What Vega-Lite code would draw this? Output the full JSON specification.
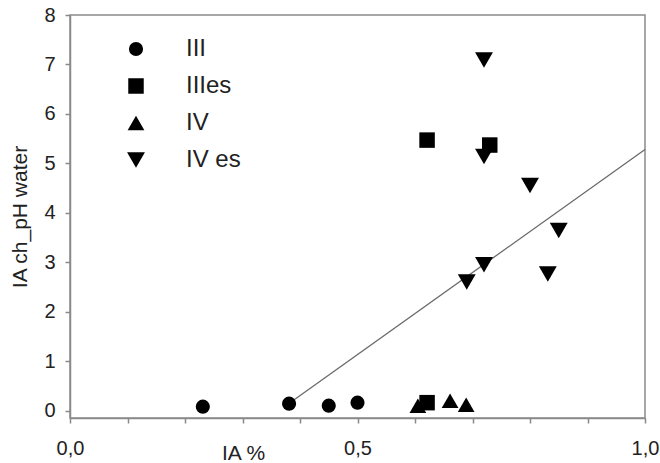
{
  "$schema": "https://vega.github.io/schema/vega-lite/v6.json",
  "width": 575,
  "height": 403,
  "autosize": {"type": "none"},
  "padding": {"left": 70, "top": 15, "right": 15, "bottom": 45},
  "background": "white",
  "config": {
    "font": "Liberation Sans",
    "view": {"stroke": "#8a8a8a", "strokeWidth": 1.5},
    "axis": {
      "domainColor": "#8a8a8a",
      "tickColor": "#8a8a8a",
      "domainWidth": 1.5,
      "tickWidth": 1.5,
      "grid": false,
      "labelColor": "#222",
      "titleColor": "#222",
      "labelFontSize": 20,
      "titleFontSize": 21,
      "titleFontWeight": "normal"
    },
    "legend": {
      "orient": "none",
      "legendX": 54,
      "legendY": 22,
      "labelFontSize": 24,
      "labelColor": "#222",
      "labelOffset": 38,
      "rowPadding": 13,
      "symbolFillColor": "black",
      "symbolStrokeColor": "black",
      "symbolOpacity": 1
    }
  },
  "layer": [
    {
      "data": {"values": [
        {"x": 0.385, "y": 0.18},
        {"x": 1.0, "y": 5.28}
      ]},
      "mark": {"type": "line", "color": "#6a6a6a", "strokeWidth": 1.3},
      "encoding": {
        "x": {"field": "x", "type": "quantitative"},
        "y": {"field": "y", "type": "quantitative"}
      }
    },
    {
      "data": {"values": [
        {"group": "III", "ia": 0.231, "ph": 0.08},
        {"group": "III", "ia": 0.381, "ph": 0.14},
        {"group": "III", "ia": 0.45, "ph": 0.1},
        {"group": "III", "ia": 0.5, "ph": 0.16},
        {"group": "IV", "ia": 0.605, "ph": 0.1},
        {"group": "IV", "ia": 0.661, "ph": 0.2},
        {"group": "IV", "ia": 0.689, "ph": 0.12},
        {"group": "IIIes", "ia": 0.621, "ph": 5.47},
        {"group": "IIIes", "ia": 0.73, "ph": 5.37},
        {"group": "IIIes", "ia": 0.621, "ph": 0.16},
        {"group": "IV es", "ia": 0.72, "ph": 7.09},
        {"group": "IV es", "ia": 0.72, "ph": 5.14},
        {"group": "IV es", "ia": 0.8, "ph": 4.55},
        {"group": "IV es", "ia": 0.85, "ph": 3.64},
        {"group": "IV es", "ia": 0.831, "ph": 2.76},
        {"group": "IV es", "ia": 0.72, "ph": 2.95},
        {"group": "IV es", "ia": 0.69, "ph": 2.6}
      ]},
      "mark": {"type": "point", "filled": true, "color": "black", "opacity": 1},
      "encoding": {
        "x": {
          "field": "ia", "type": "quantitative",
          "scale": {"domain": [0, 1], "nice": false, "zero": false},
          "axis": {
            "title": "IA %",
            "values": [0, 0.1, 0.2, 0.3, 0.4, 0.5, 0.6, 0.7, 0.8, 0.9, 1.0],
            "labelExpr": "datum.value == 0 ? '0,0' : datum.value == 0.5 ? '0,5' : datum.value == 1 ? '1,0' : ''",
            "tickSize": 5,
            "labelPadding": 15,
            "titleX": 173,
            "titleAlign": "center",
            "titleAnchor": null,
            "titlePadding": 0,
            "titleY": 41,
            "titleBaseline": "alphabetic",
            "labelFlush": false,
            "labelOverlap": false
          }
        },
        "y": {
          "field": "ph", "type": "quantitative",
          "scale": {"domain": [-0.15, 8], "nice": false, "zero": false},
          "axis": {
            "title": "IA ch_pH water",
            "values": [0, 0.5, 1, 1.5, 2, 2.5, 3, 3.5, 4, 4.5, 5, 5.5, 6, 6.5, 7, 7.5, 8],
            "labelExpr": "datum.value % 1 == 0 ? datum.value : ''",
            "tickSize": 5,
            "labelPadding": 10,
            "titlePadding": 13,
            "labelFlush": false,
            "labelOverlap": false
          }
        },
        "shape": {
          "field": "group", "type": "nominal",
          "scale": {
            "domain": ["III", "IIIes", "IV", "IV es"],
            "range": ["circle", "square", "triangle-up", "triangle-down"]
          },
          "legend": {"title": null, "labelFontSize": 24, "labelOffset": 38, "rowPadding": 13}
        },
        "size": {
          "field": "group", "type": "nominal",
          "scale": {
            "domain": ["III", "IIIes", "IV", "IV es"],
            "range": [200, 320, 320, 320]
          },
          "legend": {"title": null, "labelFontSize": 24, "labelOffset": 38, "rowPadding": 13}
        }
      }
    }
  ]
}
